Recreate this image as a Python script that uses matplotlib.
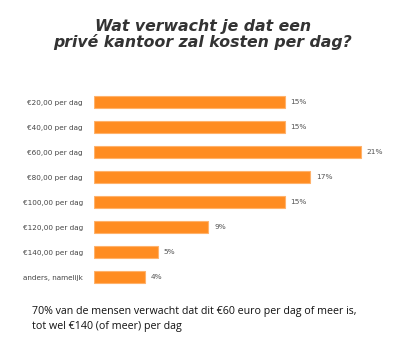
import matplotlib
matplotlib.use("Agg")
import matplotlib.pyplot as plt

categories = ["€20,00 per dag", "€40,00 per dag", "€60,00 per dag", "€80,00 per dag",
              "€100,00 per dag", "€120,00 per dag", "€140,00 per dag", "anders, namelijk"]
percentages = [15, 15, 21, 17, 15, 9, 5, 4]

title = "Wat verwacht je dat een\nprivé kantoor zal kosten per dag?"
note = ("70% van de mensen verwacht dat dit €60 euro per dag of meer is,\n"
        "tot wel €140 (of meer) per dag")

W, H = 401, 348
fig = plt.figure(figsize=(W / 100, H / 100), dpi=100)
fig.patch.set_facecolor("white")

# axes placed in pixel terms
left, right = 94, 399
top, bottom = 89.8, 289.8
ax = fig.add_axes([left / W, 1 - bottom / H, (right - left) / W, (bottom - top) / H])

ypos = list(range(len(categories)))
ax.barh(ypos, percentages, height=0.48, color="#FF8C21", edgecolor="#FFB26B", linewidth=0.8)
ax.set_xlim(0, 24)
ax.set_ylim(len(categories) - 0.5, -0.5)

for y, v in zip(ypos, percentages):
    ax.text(v + 0.45, y, f"{v}%", va="center", ha="left", fontsize=5.3,
            color="#555555", family="DejaVu Sans")

ax.set_yticks(ypos)
ax.set_yticklabels(categories, fontsize=5.2, color="#444444", family="DejaVu Sans")
ax.tick_params(axis="y", length=0, pad=8)
ax.set_xticks([])
for s in ax.spines.values():
    s.set_visible(False)

fig.text(203 / W, 1 - 34 / H, title, ha="center", va="center", fontsize=11.3,
         fontweight="bold", fontstyle="italic", color="#333333",
         linespacing=1.0, family="DejaVu Sans")

fig.text(32 / W, 1 - 319 / H, note, ha="left", va="center", fontsize=7.7,
         color="#111111", linespacing=1.6, family="Open Sans")

fig.savefig("out.png", dpi=100)
